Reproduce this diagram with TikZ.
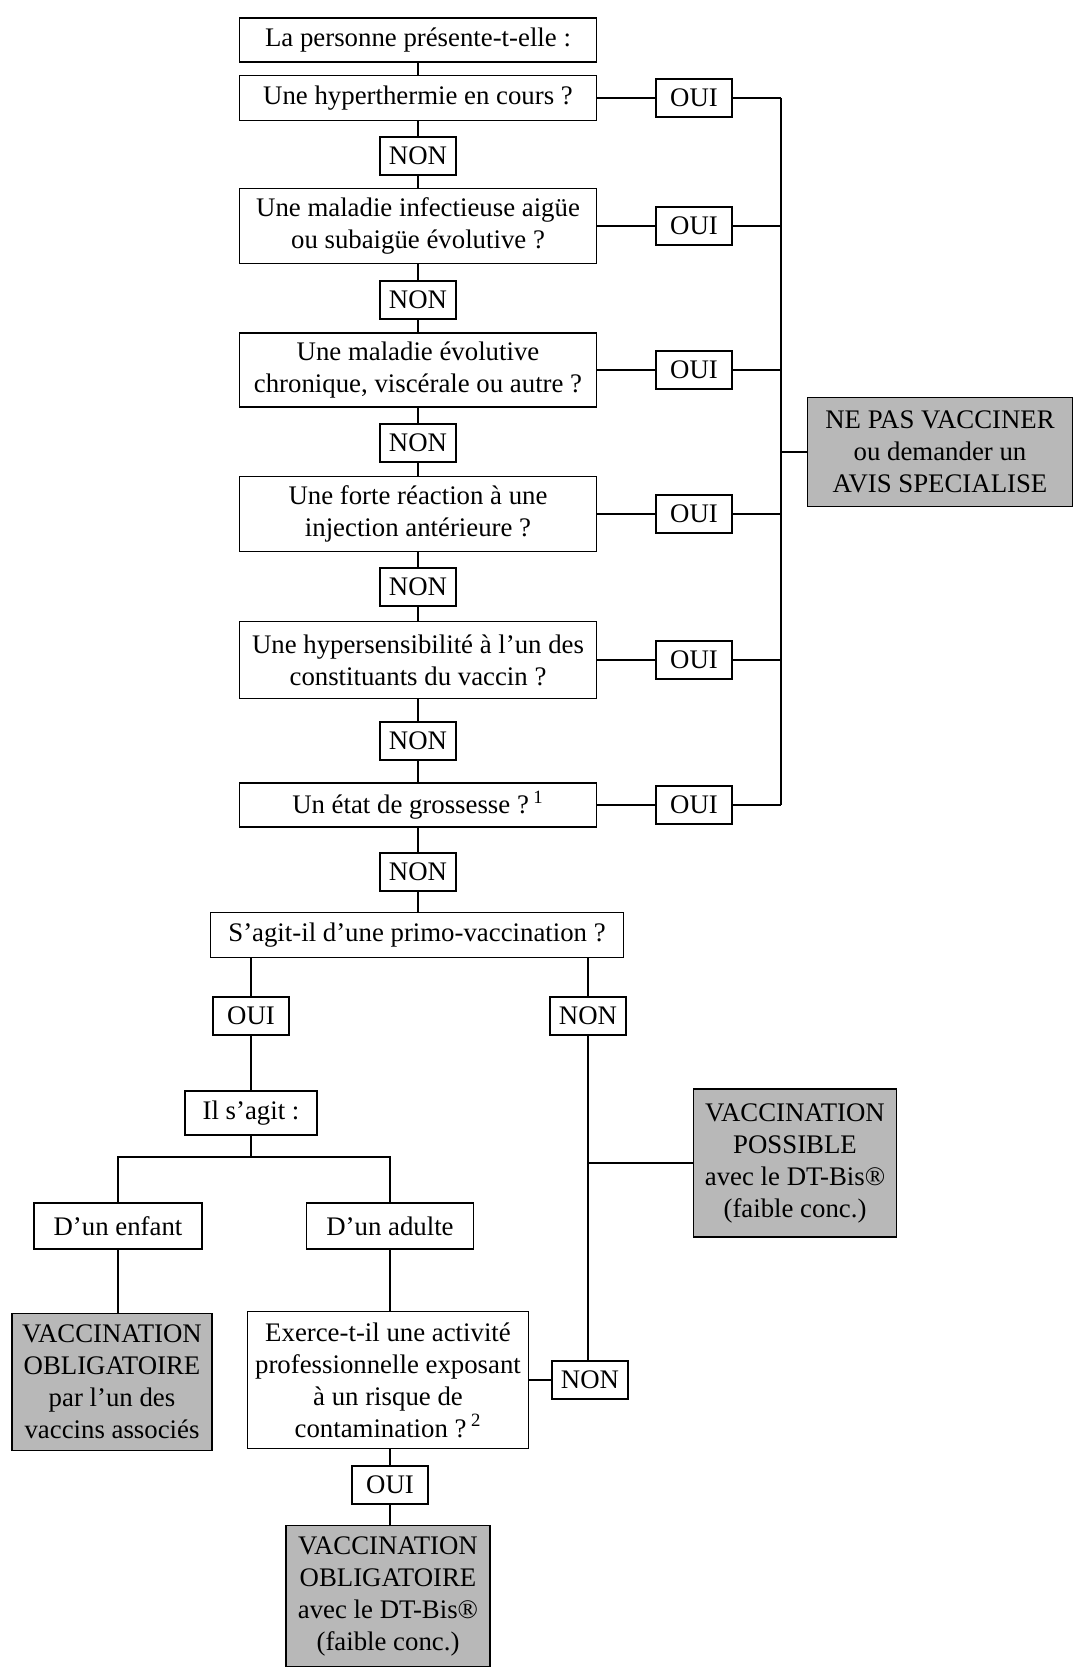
\documentclass[tikz,border=0pt]{standalone}
\usepackage{fontspec}
\setmainfont{Liberation Serif}
\begin{document}
\begin{tikzpicture}[x=0.5pt,y=-0.5pt,
  every node/.style={font=\fontsize{13.4}{16}\selectfont},
  qbox/.style={draw, line width=0.7pt, align=center, inner sep=0pt, minimum width=178.5pt},
  lbl/.style={draw, line width=0.7pt, inner sep=0pt, minimum width=38pt, minimum height=19pt},
  grey/.style={draw, line width=0.7pt, fill=black!28, align=center, inner sep=0pt},
  conn/.style={line width=0.7pt}]
\useasboundingbox (0,0) rectangle (1075,1668);

% main column
\node[qbox, minimum height=22pt] (b0) at (418,40) {La personne présente-t-elle :};
\node[qbox, minimum height=22.5pt] (b1) at (418,98) {Une hyperthermie en cours ?};
\node[lbl] (n1) at (418,156) {NON};
\node[qbox, minimum height=37.5pt] (b2) at (418,226) {Une maladie infectieuse aigüe\\ou subaigüe évolutive ?};
\node[lbl] (n2) at (418,300) {NON};
\node[qbox, minimum height=37pt] (b3) at (418,370) {Une maladie évolutive\\chronique, viscérale ou autre ?};
\node[lbl] (n3) at (418,443) {NON};
\node[qbox, minimum height=37.5pt] (b4) at (418,514) {Une forte réaction à une\\injection antérieure ?};
\node[lbl] (n4) at (418,587) {NON};
\node[qbox, minimum height=38.5pt] (b5) at (418,660) {Une hypersensibilité à l’un des\\constituants du vaccin ?};
\node[lbl] (n5) at (418,741) {NON};
\node[qbox, minimum height=22pt] (b6) at (418,805) {Un état de grossesse ?\,\textsuperscript{1}};
\node[lbl] (n6) at (418,872) {NON};
\node[qbox, minimum width=206.5pt, minimum height=22.5pt] (b7) at (417,935) {S’agit-il d’une primo-vaccination ?};

% OUI column
\node[lbl] (o1) at (694,98) {OUI};
\node[lbl] (o2) at (694,226) {OUI};
\node[lbl] (o3) at (694,370) {OUI};
\node[lbl] (o4) at (694,514) {OUI};
\node[lbl] (o5) at (694,660) {OUI};
\node[lbl] (o6) at (694,805) {OUI};
\coordinate (bustop) at (781,98);
\coordinate (busbot) at (781,805);
\node[grey, minimum width=132.5pt, minimum height=54.5pt] (np) at (940,452) {NE PAS VACCINER\\ou demander un\\AVIS SPECIALISE};

% lower part
\node[lbl] (ol) at (251,1016) {OUI};
\node[lbl] (nr) at (588,1016) {NON};
\node[qbox, minimum width=66pt, minimum height=22pt] (il) at (251,1113) {Il s’agit :};
\coordinate (br) at (251,1157);
\node[qbox, minimum width=84pt, minimum height=23pt] (enf) at (118,1226) {D’un enfant};
\node[qbox, minimum width=83.5pt, minimum height=23pt] (adu) at (390,1226) {D’un adulte};
\node[grey, minimum width=100pt, minimum height=68.5pt] (vo1) at (112,1382) {VACCINATION\\OBLIGATOIRE\\par l’un des\\vaccins associés};
\node[qbox, minimum width=140.5pt, minimum height=68.5pt] (ex) at (388,1380) {Exerce-t-il une activité\\professionnelle exposant\\à un risque de\\contamination ?\,\textsuperscript{2}};
\node[lbl] (nb) at (590,1380) {NON};
\node[grey, minimum width=101.5pt, minimum height=74pt] (vp) at (795,1163) {VACCINATION\\POSSIBLE\\avec le DT-Bis®\\(faible conc.)};
\node[lbl] (ob) at (390,1485) {OUI};
\node[grey, minimum width=102pt, minimum height=70.5pt] (vo2) at (388,1596) {VACCINATION\\OBLIGATOIRE\\avec le DT-Bis®\\(faible conc.)};

% connectors main column
\draw[conn] (b0) -- (b1);
\draw[conn] (b1) -- (n1);
\draw[conn] (n1) -- (b2);
\draw[conn] (b2) -- (n2);
\draw[conn] (n2) -- (b3);
\draw[conn] (b3) -- (n3);
\draw[conn] (n3) -- (b4);
\draw[conn] (b4) -- (n4);
\draw[conn] (n4) -- (b5);
\draw[conn] (b5) -- (n5);
\draw[conn] (n5) -- (b6);
\draw[conn] (b6) -- (n6);
\draw[conn] (n6) -- (b7.north -| n6);

% OUI connectors and bus
\foreach \i in {1,...,6}{
  \draw[conn] (b\i.east) -- (o\i.west);
  \draw[conn] (o\i.east) -- (o\i.east -| bustop);
}
\draw[conn] (bustop) -- (busbot);
\draw[conn] (np.west -| bustop) -- (np.west);

% lower connectors
\draw[conn] (b7.south -| ol) -- (ol.north);
\draw[conn] (b7.south -| nr) -- (nr.north);
\draw[conn] (ol) -- (il);
\draw[conn] (il.south) -- (br);
\draw[conn] (enf.north) |- (br) -| (adu.north);
\draw[conn] (enf.south) -- (enf.south |- vo1.north);
\draw[conn] (adu.south) -- (adu.south |- ex.north);
\draw[conn] (ex.east) -- (nb.west);
\draw[conn] (nr.south) -- (nr.south |- nb.north);
\draw[conn] (vp.west -| nr) -- (vp.west);
\draw[conn] (ex.south -| ob) -- (ob.north);
\draw[conn] (ob.south) -- (ob.south |- vo2.north);
\end{tikzpicture}
\end{document}
